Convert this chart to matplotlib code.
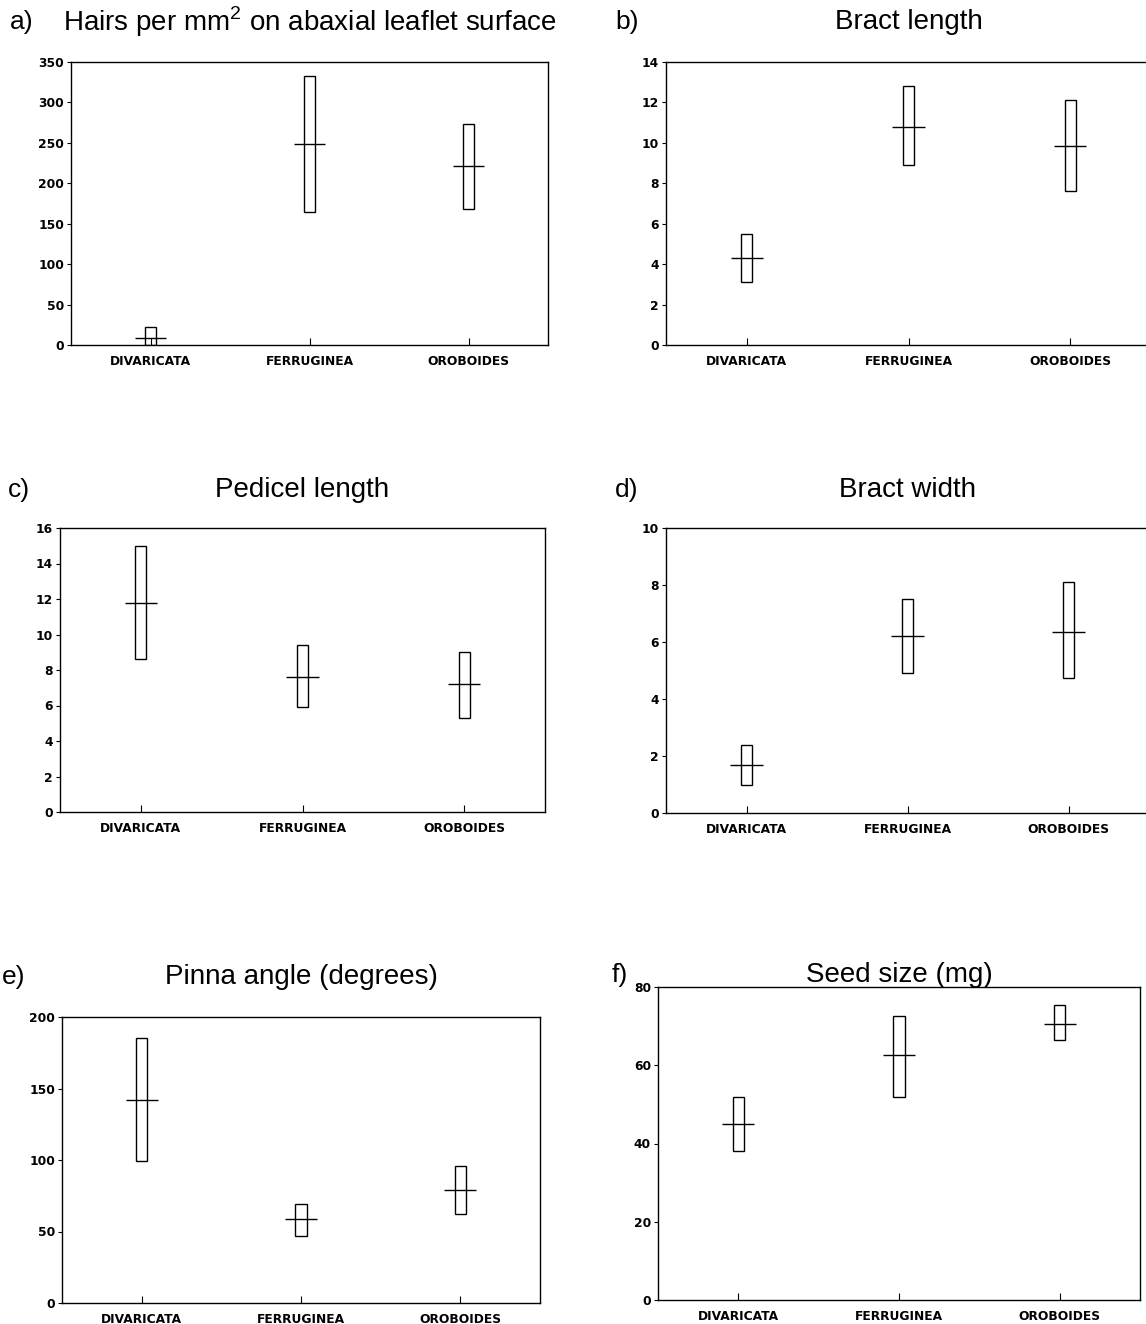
import matplotlib
matplotlib.use("Agg")
import matplotlib.pyplot as plt
import numpy as np

W, H = 1146, 1324

species = ["DIVARICATA", "FERRUGINEA", "OROBOIDES"]

# per panel: low end of box, high end of box, mean
hairs_low = [0, 165, 168]
hairs_high = [22, 333, 273]
hairs_mean = [9, 248, 221]

bract_len_low = [3.1, 8.9, 7.6]
bract_len_high = [5.5, 12.8, 12.1]
bract_len_mean = [4.3, 10.8, 9.85]

pedicel_low = [8.6, 5.9, 5.3]
pedicel_high = [15.0, 9.4, 9.0]
pedicel_mean = [11.8, 7.6, 7.2]

bract_wid_low = [1.0, 4.9, 4.75]
bract_wid_high = [2.4, 7.5, 8.1]
bract_wid_mean = [1.7, 6.2, 6.35]

pinna_low = [99, 47, 62]
pinna_high = [185, 69, 96]
pinna_mean = [142, 59, 79]

seed_low = [38, 52, 66.5]
seed_high = [52, 72.5, 75.5]
seed_mean = [45, 62.5, 70.5]

panels = [
    # letter, title, low, high, mean, ymax, ystep, (left, right, top, bottom) px, title y, letter x
    ("a)", "Hairs per mm$^{2}$ on abaxial leaflet surface", hairs_low, hairs_high, hairs_mean, 350, 50, (71, 548, 62, 345), 22, 10),
    ("b)", "Bract length", bract_len_low, bract_len_high, bract_len_mean, 14, 2, (666, 1151, 62, 345), 22, 615),
    ("c)", "Pedicel length", pedicel_low, pedicel_high, pedicel_mean, 16, 2, (60, 545, 528, 812), 490, 8),
    ("d)", "Bract width", bract_wid_low, bract_wid_high, bract_wid_mean, 10, 2, (666, 1149, 528, 813), 490, 615),
    ("e)", "Pinna angle (degrees)", pinna_low, pinna_high, pinna_mean, 200, 50, (62, 540, 1017, 1303), 977, 2),
    ("f)", "Seed size (mg)", seed_low, seed_high, seed_mean, 80, 20, (658, 1140, 987, 1300), 975, 612),
]

plt.rcParams['mathtext.fontset'] = 'custom'
plt.rcParams['mathtext.rm'] = 'Liberation Sans'

fig = plt.figure(figsize=(W / 100, H / 100), dpi=100)
x = np.arange(1, 4)

for letter, title, low, high, mean, ymax, ystep, (l, r, t, b), ty, lx in panels:
    ax = fig.add_axes([l / W, 1 - b / H, (r - l) / W, (b - t) / H])
    low = np.array(low)
    high = np.array(high)
    ax.bar(x, high - low, bottom=low, width=0.07, fill=False, edgecolor="black", linewidth=1.0)
    ax.hlines(mean, x - 0.1, x + 0.1, colors="black", linewidth=1.0)
    ax.set_xlim(0.5, 3.5)
    ax.set_ylim(0, ymax)
    ax.set_yticks(np.arange(0, ymax + ystep, ystep))
    ax.set_xticks(x)
    ax.set_xticklabels(species)
    ax.tick_params(axis="y", direction="out", length=3, width=0.8, pad=2, labelsize=8.8)
    ax.tick_params(axis="x", direction="in", length=5, width=0.8, pad=7, labelsize=8.8)
    for lab in ax.get_xticklabels() + ax.get_yticklabels():
        lab.set_fontweight("bold")
        lab.set_family("DejaVu Sans")
    for s in ax.spines.values():
        s.set_linewidth(1.0)
    fig.text((l + r) / 2 / W, 1 - ty / H, title, ha="center", va="center",
             fontsize=20, family="Liberation Sans")
    fig.text(lx / W, 1 - ty / H, letter, ha="left", va="center",
             fontsize=19, family="Liberation Sans")

fig.savefig("out.png", dpi=100)
